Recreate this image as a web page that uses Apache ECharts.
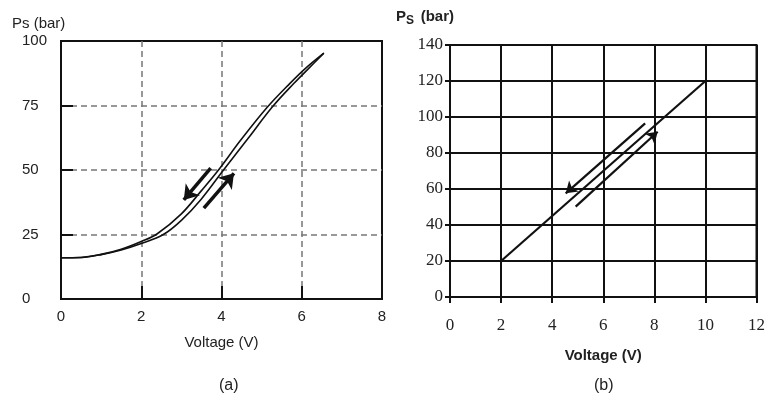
<!DOCTYPE html>
<html>
<head>
<meta charset="utf-8">
<script src="https://cdn.jsdelivr.net/npm/echarts@6/dist/echarts.min.js"></script>
<style>
  html, body { margin: 0; padding: 0; background: #fff; }
  #chart { width: 768px; height: 396px; }
</style>
</head>
<body>
<div id="chart"></div>
<script>
// (a) hysteresis: rising branch (lower) and falling branch (upper)
const riseV = [0, 0.5, 1, 1.5, 2, 2.55, 3, 3.5, 4.05, 4.65, 5.27, 5.8, 6.15, 6.55];
const riseP = [16, 16.1, 17.2, 19, 21.5, 25, 30.5, 38.8, 50, 62, 74.5, 83.5, 89, 95.3];
const fallV = [0, 0.5, 1, 1.5, 2, 2.4, 3, 3.5, 3.9, 4.48, 5.15, 5.7, 6.1, 6.55];
const fallP = [16, 16.1, 17.3, 19.3, 22.3, 25.3, 33, 42, 49.5, 61.6, 74.5, 83.5, 89.5, 95.3];
// direction arrows in (a): [tailV, tailP, headV, headP]
const arrowsA = [
  [3.73, 50.7, 3.06, 38.4],
  [3.56, 35.2, 4.31, 48.7]
];

// (b) linear response
const lineV = [2, 10];
const lineP = [20, 120];
const arrowsB = [
  [7.64, 96.5, 4.53, 57.6],
  [4.92, 50.2, 8.13, 91.8]
];

const zip = (a, b) => a.map((v, i) => [v, b[i]]);
const toLines = (arr) => arr.map((a) => ({ coords: [[a[0], a[1]], [a[2], a[3]]] }));

const sans = 'Liberation Sans, Arial, sans-serif';
const serif = 'Liberation Serif, Times New Roman, serif';

const myChart = echarts.init(document.getElementById('chart'));

const dashGrid = { show: true, showMinLine: false, showMaxLine: false, lineStyle: { color: '#777', width: 1.5, type: [6, 4] } };

const option = {
  animation: false,
  backgroundColor: '#fff',
  grid: [
    { left: 61, right: 386, top: 41, bottom: 97, show: true, borderColor: '#111', borderWidth: 2 },
    { left: 450, right: 9, top: 45, bottom: 99, show: true, borderColor: '#111', borderWidth: 2 }
  ],
  xAxis: [
    {
      gridIndex: 0, type: 'value', min: 0, max: 8, interval: 2,
      name: 'Voltage (V)', nameLocation: 'middle', nameGap: 36,
      nameTextStyle: { fontFamily: sans, fontSize: 15, color: '#222' },
      axisLine: { lineStyle: { color: '#111', width: 2 } },
      axisTick: { inside: true, length: 13, lineStyle: { color: '#111', width: 2 } },
      axisLabel: { margin: 10, fontFamily: sans, fontSize: 15, color: '#222' },
      splitLine: dashGrid
    },
    {
      gridIndex: 1, type: 'value', min: 0, max: 12, interval: 2,
      name: 'Voltage (V)', nameLocation: 'middle', nameGap: 51,
      nameTextStyle: { fontFamily: sans, fontSize: 15, fontWeight: 'bold', color: '#222' },
      axisLine: { lineStyle: { color: '#111', width: 2 } },
      axisTick: { length: 6, lineStyle: { color: '#111', width: 2 } },
      axisLabel: { margin: 20, fontFamily: serif, fontSize: 17, color: '#222' },
      splitLine: { show: true, lineStyle: { color: '#111', width: 2 } }
    }
  ],
  yAxis: [
    {
      gridIndex: 0, type: 'value', min: 0, max: 100, interval: 25,
      axisLine: { lineStyle: { color: '#111', width: 2 } },
      axisTick: { inside: true, length: 12, lineStyle: { color: '#111', width: 2 } },
      axisLabel: { align: 'left', margin: 39, fontFamily: sans, fontSize: 15, color: '#222' },
      splitLine: dashGrid
    },
    {
      gridIndex: 1, type: 'value', min: 0, max: 140, interval: 20,
      axisLine: { lineStyle: { color: '#111', width: 2 } },
      axisTick: { length: 5, lineStyle: { color: '#111', width: 2 } },
      axisLabel: { margin: 7, fontFamily: serif, fontSize: 17, color: '#222' },
      splitLine: { show: true, lineStyle: { color: '#111', width: 2 } }
    }
  ],
  graphic: [
    { type: 'text', left: 12, top: 16, style: { text: 'Ps (bar)', font: '15px ' + sans, fill: '#222' } },
    {
      type: 'text', left: 396, top: 9,
      style: {
        text: '{p|P}{s|S}  {p|(bar)}',
        rich: {
          p: { font: 'bold 15px ' + sans, fill: '#222' },
          s: { font: 'bold 12px ' + sans, fill: '#222', padding: [8, 0, 0, 0] }
        }
      }
    },
    { type: 'text', left: 219, top: 378, style: { text: '(a)', font: '16px ' + sans, fill: '#222' } },
    { type: 'text', left: 594, top: 378, style: { text: '(b)', font: '16px ' + sans, fill: '#222' } }
  ],
  series: [
    {
      type: 'line', xAxisIndex: 0, yAxisIndex: 0, smooth: 0.35, symbol: 'none',
      lineStyle: { color: '#111', width: 1.6 }, data: zip(riseV, riseP)
    },
    {
      type: 'line', xAxisIndex: 0, yAxisIndex: 0, smooth: 0.35, symbol: 'none',
      lineStyle: { color: '#111', width: 1.6 }, data: zip(fallV, fallP)
    },
    {
      type: 'lines', coordinateSystem: 'cartesian2d', xAxisIndex: 0, yAxisIndex: 0,
      symbol: ['none', 'arrow'], symbolSize: 14,
      lineStyle: { color: '#111', width: 3.5, opacity: 1 }, data: toLines(arrowsA)
    },
    {
      type: 'line', xAxisIndex: 1, yAxisIndex: 1, symbol: 'none',
      lineStyle: { color: '#111', width: 2.2 }, data: zip(lineV, lineP)
    },
    {
      type: 'lines', coordinateSystem: 'cartesian2d', xAxisIndex: 1, yAxisIndex: 1,
      symbol: ['none', 'arrow'], symbolSize: 11,
      lineStyle: { color: '#111', width: 2.2, opacity: 1 }, data: toLines(arrowsB)
    }
  ]
};

myChart.setOption(option);
</script>
</body>
</html>
